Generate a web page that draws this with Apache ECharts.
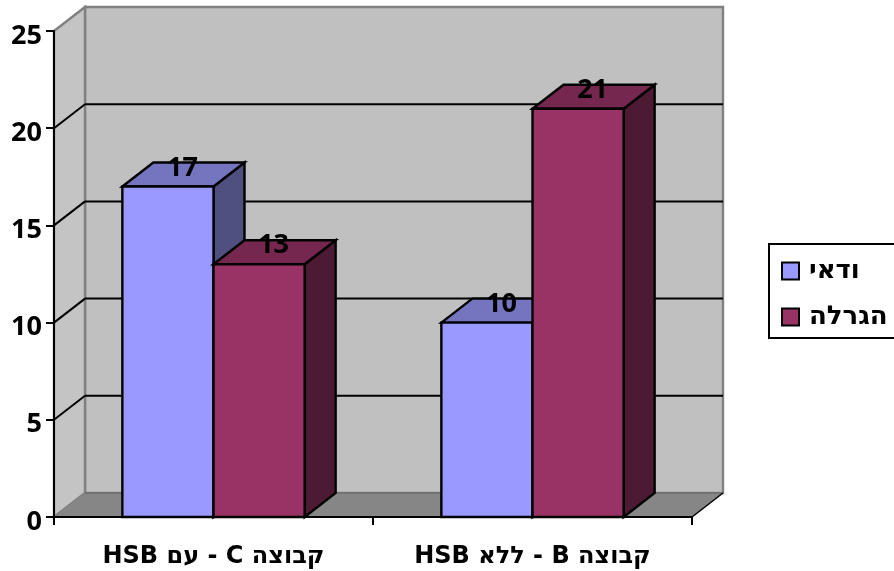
<!DOCTYPE html>
<html><head><meta charset="utf-8">
<style>html,body{margin:0;padding:0;background:#fff}#c{width:894px;height:571px}</style>
<script src="https://cdn.jsdelivr.net/npm/echarts@6/dist/echarts.min.js"></script>
</head><body><div id="c"></div>
<script>
const categories = ['קבוצה C - עם HSB', 'קבוצה B - ללא HSB'];
const seriesNames = ['ודאי', 'הגרלה'];
const certain = [17, 10];
const lottery = [13, 21];
const yTicks = [0, 5, 10, 15, 20, 25];

const FONT = '"Open Sans","Noto Sans","DejaVu Sans",sans-serif';
const FONT2 = '"DejaVu Sans",sans-serif';
const DX = 31, DY = -24;
const shades = [
  {front:'#9999ff', top:'#7575bf', side:'#4f4f80'},
  {front:'#993366', top:'#75274f', side:'#4d1a33'}
];
function poly(pts, fill, stroke, lw){
  return {type:'polygon', shape:{points:pts}, style:{fill:fill, stroke:stroke||null, lineWidth:lw||0}};
}
function line(a,b,color,lw){
  return {type:'line', shape:{x1:a[0],y1:a[1],x2:b[0],y2:b[1]}, style:{stroke:color,lineWidth:lw}};
}
function barRender(idx){
  return function(params, api){
    const cat = api.value(0), v = api.value(1);
    const band = api.size([1,0])[0];
    const w = band/3.5;
    const c = api.coord([cat, v]);
    const base = api.coord([cat, 0]);
    const x0 = c[0] + (idx-1)*w, x1 = x0 + w, t = c[1], b = base[1];
    const s = shades[idx], k = '#000', lw = 2.4;
    return {type:'group', children:[
      poly([[x1,t],[x1+DX,t+DY],[x1+DX,b+DY],[x1,b]], s.side, k, lw),
      poly([[x0,t],[x0+DX,t+DY],[x1+DX,t+DY],[x1,t]], s.top, k, lw),
      poly([[x0,t],[x1,t],[x1,b],[x0,b]], s.front, k, lw),
      {type:'text', z2:10, style:{text:String(v), x:(x0+x1)/2+DX/2-1, y:t+DY+5.5, align:'center', verticalAlign:'middle',
        font:'bold 27px '+FONT, fill:'#000'}}
    ]};
  };
}
function wallRender(params, api){
  const cs = params.coordSys;
  const v = api.value(0);
  const yv = api.coord([0, v])[1];
  const L = cs.x, R = cs.x+cs.width, Y0 = cs.y+cs.height, YT = cs.y;
  const kids = [];
  const gray = '#808080';
  if (v === 0) {
    kids.push(poly([[L+DX,YT+DY],[R+DX,YT+DY],[R+DX,Y0+DY],[L+DX,Y0+DY]], '#c0c0c0', gray, 2.4));
    kids.push(poly([[L,YT],[L+DX,YT+DY],[L+DX,Y0+DY],[L,Y0]], '#c4c4c4', gray, 2.4));
    kids.push(poly([[L,Y0],[L+DX,Y0+DY],[R+DX,Y0+DY],[R,Y0]], '#868686', null, 0));
    kids.push(line([L+DX,Y0+DY],[R+DX,Y0+DY],'#6e6e6e',1.5));
    kids.push(line([R,Y0],[R+DX,Y0+DY],'#000',1.5));
  } else if (v !== yTicks[yTicks.length-1]) {
    kids.push(line([L,yv],[L+DX,yv+DY],'#000',2));
    kids.push(line([L+DX,yv+DY],[R+DX,yv+DY],'#000',2));
  }
  return {type:'group', children:kids};
}
const chart = echarts.init(document.getElementById('c'), null, {renderer:'canvas'});
chart.setOption({
  animation:false,
  backgroundColor:'#fff',
  grid:{left:54, right:202, top:31, bottom:54, containLabel:false},
  legend:{
    show:true, orient:'vertical', left:769, top:244, data:seriesNames,
    padding:[14,40,8,12], itemGap:20, itemWidth:17, itemHeight:17, icon:'rect',
    borderColor:'#000', borderWidth:2, backgroundColor:'#fff',
    selectedMode:false,
    textStyle:{fontFamily:FONT2, fontWeight:'bold', fontSize:26, color:'#000', padding:[4,0,0,5]},
    itemStyle:{borderColor:'#000', borderWidth:2}
  },
  xAxis:{type:'category', data:categories, z:6,
    axisLine:{lineStyle:{color:'#000',width:2}},
    axisTick:{show:true, length:8, lineStyle:{color:'#000',width:2}},
    axisLabel:{margin:28, fontFamily:FONT2, fontWeight:'bold', fontSize:24, color:'#000',
      formatter:function(s){return '\u202B'+s+'\u202C';}},
    splitLine:{show:false}},
  yAxis:{type:'value', min:0, max:25, interval:5, z:6,
    axisLine:{show:true, lineStyle:{color:'#000',width:2}},
    axisTick:{show:true, length:8, lineStyle:{color:'#000',width:2}},
    axisLabel:{margin:12, fontFamily:FONT, fontWeight:'bold', fontSize:27, color:'#000', verticalAlign:'top', lineHeight:10},
    splitLine:{show:false}},
  series:[
    {type:'custom', name:'walls', z:1, silent:true, renderItem:wallRender, clip:false,
      encode:{x:1,y:0}, data:yTicks.map(function(t){return [t, 0];})},
    {type:'custom', name:seriesNames[0], z:3, renderItem:barRender(0), clip:false,
      itemStyle:{color:shades[0].front, borderColor:'#000', borderWidth:2},
      encode:{x:0,y:1}, data:certain.map(function(v,i){return [i,v];})},
    {type:'custom', name:seriesNames[1], z:4, renderItem:barRender(1), clip:false,
      itemStyle:{color:shades[1].front, borderColor:'#000', borderWidth:2},
      encode:{x:0,y:1}, data:lottery.map(function(v,i){return [i,v];})}
  ]
});
</script></body></html>
